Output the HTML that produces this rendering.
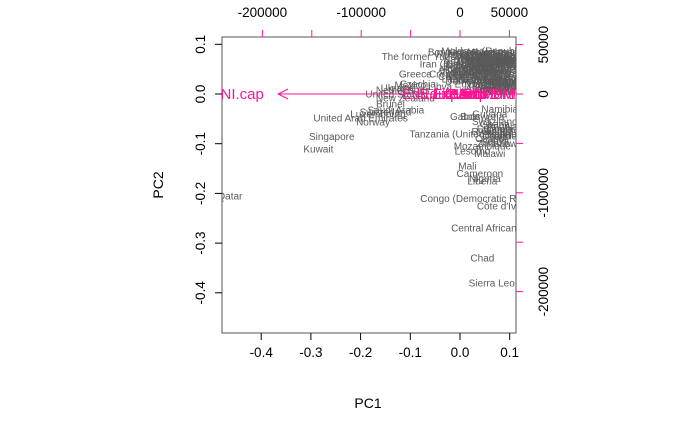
<!DOCTYPE html>
<html><head><meta charset="utf-8"><style>
body{margin:0;background:#fff}
svg{display:block;font-family:"Liberation Sans",Arial,sans-serif}
</style></head><body>
<svg id="chart" width="700" height="432" viewBox="0 0 700 432">
<defs><clipPath id="plotclip"><rect x="222" y="37" width="294" height="296"/></clipPath></defs>
<rect x="222" y="37" width="294" height="296" fill="none" stroke="#555" stroke-width="1"/>
<g id="axes"></g>
<g id="points" clip-path="url(#plotclip)"></g>
<g id="arrows" clip-path="url(#plotclip)"></g>
<text x="368" y="408" font-size="14" text-anchor="middle">PC1</text>
<text x="163" y="185" font-size="14" text-anchor="middle" transform="rotate(-90 163 185)">PC2</text>
</svg>
<script>
const pc1Ticks = [-0.4, -0.3, -0.2, -0.1, 0.0, 0.1];
const pc2Ticks = [0.1, 0.0, -0.1, -0.2, -0.3, -0.4];
const topTicks = [-200000, -150000, -100000, -50000, 0, 50000];
const topLabels = ["-200000", "", "-100000", "", "0", "50000"];
const rightTicks = [50000, 0, -50000, -100000, -150000, -200000];
const rightLabels = ["50000", "0", "", "-100000", "", "-200000"];
const countries = ["Qatar","Kuwait","Singapore","United Arab Emirates","Norway","Saudi Arabia","Luxembourg","Switzerland","Brunei","United States","Netherlands","New Zealand","Ukraine","Mexico","Czechia","Greece","The former Yugoslav Republic of Macedonia","Iran (Islamic Republic of)","Bosnia and Herzegovina","Moldova (Republic of)","Serbia","Armenia","Georgia","Albania","Belarus","Bulgaria","Romania","Croatia","Cuba","Peru","Brazil","Chile","Jordan","Tunisia","Algeria","Egypt","Turkey","Libya","Thailand","Sri Lanka","Mongolia","Viet Nam","Paraguay","Fiji","Samoa","Tonga","Jamaica","Belize","Guyana","Bhutan","Namibia","Gabon","Botswana","Swaziland","Ghana","Zambia","Tanzania (United Republic of)","Rwanda","Uganda","Kenya","Congo","Mozambique","Lesotho","Malawi","Mali","Cameroon","Nigeria","Liberia","Congo (Democratic Republic of the)","Côte d'Ivoire","Central African Republic","Chad","Sierra Leone","Angola","Zimbabwe","Ethiopia","Benin","Togo","Guinea",
"Kazakhstan","Azerbaijan","Uzbekistan","Kyrgyzstan","Tajikistan","Turkmenistan","Lebanon","Syria","Iraq","Morocco","Colombia","Ecuador","Bolivia","Venezuela","Argentina","Uruguay","Costa Rica","Panama","Honduras","Nicaragua","El Salvador","Guatemala","Dominican Republic","Philippines","Indonesia","Malaysia","China","India","Nepal","Bangladesh","Pakistan","Myanmar","Cambodia","Lao PDR","Maldives","Montenegro","Lithuania","Latvia","Estonia","Poland","Hungary","Slovakia","Slovenia","Portugal","Cyprus","Malta","Russian Federation","Mauritius","Seychelles","Suriname","Trinidad and Tobago","Barbados","Grenada","Saint Lucia","Dominica","Antigua","Palau","Vanuatu","Kiribati","Micronesia","Cabo Verde","Sao Tome","Comoros","Djibouti"];
const pc1Vals = [-0.463,-0.285,-0.258,-0.2,-0.175,-0.129,-0.165,-0.15,-0.14,-0.13,-0.115,-0.11,-0.125,-0.1,-0.085,-0.09,0.04,0.03,0.045,0.06,0.02,0.05,0.07,-0.01,0.0,0.01,0.025,-0.03,-0.02,0.035,0.055,0.075,0.09,0.08,0.065,0.015,0.005,-0.04,0.03,0.06,0.085,0.045,0.07,0.09,0.08,0.05,0.06,0.08,0.06,0.09,0.08,0.01,0.045,0.07,0.07,0.085,0.03,0.06,0.08,0.07,0.06,0.045,0.025,0.06,0.015,0.04,0.05,0.045,0.08,0.09,0.09,0.045,0.075,0.085,0.08,0.07,0.075,0.08,0.075,
0.02,0.035,0.05,0.065,0.08,0.095,0.01,0.025,0.04,0.055,0.07,0.085,0.1,0.005,0.02,0.035,0.05,0.065,0.08,0.095,0.03,0.045,0.06,0.075,0.09,0.015,0.03,0.045,0.06,0.075,0.09,0.105,0.04,0.055,0.07,0.085,0.1,-0.01,0.005,0.02,0.035,0.05,0.065,0.08,0.095,0.025,0.04,0.055,0.07,0.085,0.1,0.06,0.075,0.09,0.105,0.045,0.06,0.075,0.09,0.1,0.035,0.05];
const pc2Vals = [-0.205,-0.111,-0.086,-0.048,-0.056,-0.032,-0.04,-0.036,-0.02,-0.0,0.008,-0.008,0.012,0.018,0.02,0.04,0.075,0.06,0.085,0.087,0.08,0.07,0.065,0.05,0.055,0.06,0.045,0.04,0.035,0.03,0.05,0.075,0.04,0.055,0.025,0.02,0.03,0.015,0.065,0.045,0.08,0.05,0.03,0.02,0.015,0.06,0.01,0.035,-0.04,0.025,-0.03,-0.045,-0.045,-0.055,-0.06,-0.07,-0.08,-0.075,-0.085,-0.095,-0.09,-0.105,-0.115,-0.12,-0.145,-0.16,-0.17,-0.175,-0.21,-0.225,-0.27,-0.33,-0.38,-0.065,-0.1,-0.07,-0.08,-0.085,-0.075,
0.07,0.072,0.068,0.066,0.064,0.062,0.058,0.056,0.054,0.052,0.05,0.048,0.046,0.044,0.042,0.04,0.038,0.036,0.034,0.032,0.03,0.028,0.026,0.024,0.022,0.082,0.078,0.076,0.074,0.072,0.07,0.068,0.066,0.064,0.062,0.06,0.058,0.03,0.035,0.045,0.05,0.055,0.06,0.065,0.07,0.075,0.08,0.085,0.078,0.073,0.068,0.02,0.018,0.016,0.014,0.012,0.01,0.008,0.006,0.004,0.042,0.046];
const varNames = ["GNI.cap","Edu.Exp","Life.Exp","Mat.Mor","Ado.Birth","Parli.F","Labo.FM","Edu2.FM"];
const varPC1 = [-0.366,0.0,0.0,0.02,0.02,0.0,0.0,0.0];
const varPC2 = [0.0,0.0,0.0,0.0,0.0,0.0,0.0,0.0];
const varLabelX = [-0.45,-0.06,0.0,0.04,0.06,0.02,0.05,-0.02];

const SVGNS="http://www.w3.org/2000/svg";
const xPC=v=>460+v*497, yPC=v=>94-v*497;
const xTop=v=>460+v*0.000988, yRight=v=>94-v*0.000988;
function mk(tag,attrs,parent){const e=document.createElementNS(SVGNS,tag);for(const k in attrs)e.setAttribute(k,attrs[k]);parent.appendChild(e);return e;}
const axes=document.getElementById('axes');
pc1Ticks.forEach(t=>{
  const x=xPC(t);
  const l=mk('line',{x1:x,x2:x,y1:333,y2:340,stroke:'#000'},axes);
  
  
  const tx=mk('text',{x:x,y:357,'font-size':13.5,'text-anchor':'middle'},axes);
  tx.textContent=t.toFixed(1);
  
  
});
pc2Ticks.forEach(t=>{
  const y=yPC(t);
  const l=mk('line',{x1:215,x2:222,y1:y,y2:y,stroke:'#000'},axes);
  
  
  const tx=mk('text',{x:205,y:y,'font-size':13.5,'text-anchor':'middle',transform:`rotate(-90 205 ${y})`},axes);
  tx.textContent=t.toFixed(1);
  
  
});
topTicks.forEach((t,i)=>{
  const x=xTop(t);
  const l=mk('line',{x1:x,x2:x,y1:30,y2:37,stroke:'#ff1493'},axes);
  
  
  if(topLabels[i]){const tx=mk('text',{x:x,y:17,'font-size':13.5,'text-anchor':'middle'},axes);
  tx.textContent=topLabels[i];
  
  }
});
rightTicks.forEach((t,i)=>{
  const y=yRight(t);
  const l=mk('line',{x1:516,x2:523,y1:y,y2:y,stroke:'#ff1493'},axes);
  
  
  if(rightLabels[i]){const tx=mk('text',{x:548,y:y,'font-size':13.5,'text-anchor':'middle',transform:`rotate(-90 548 ${y})`},axes);
  tx.textContent=rightLabels[i];
  
  }
});
const pts=document.getElementById('points');
countries.forEach((c,i)=>{
  const t=mk('text',{x:xPC(pc1Vals[i]),y:yPC(pc2Vals[i])+3.5,'font-size':10,'text-anchor':'middle',fill:'#5a5a5a'},pts);
  t.textContent=c;
  
  
});
const arr=document.getElementById('arrows');
varNames.forEach((v,i)=>{
  const x0=xPC(0),y0=yPC(0),x1=xPC(varPC1[i]),y1=yPC(varPC2[i]);
  if(Math.abs(x1-x0)>5){
    const l=mk('line',{x1:x0,y1:y0,x2:x1,y2:y1,stroke:'#ff1493','stroke-width':1},arr);
    
    
    const dir=Math.sign(x1-x0);
    const h=mk('path',{d:`M${x1-dir*10},${y1-5} L${x1},${y1} L${x1-dir*10},${y1+5}`,fill:'none',stroke:'#ff1493'},arr);
    
    
  }
  const t=mk('text',{x:xPC(varLabelX[i]),y:yPC(varPC2[i])+5,'font-size':15,'text-anchor':'middle',fill:'#ff1493'},arr);
  t.textContent=v;
  
  
});
</script>
</body></html>
